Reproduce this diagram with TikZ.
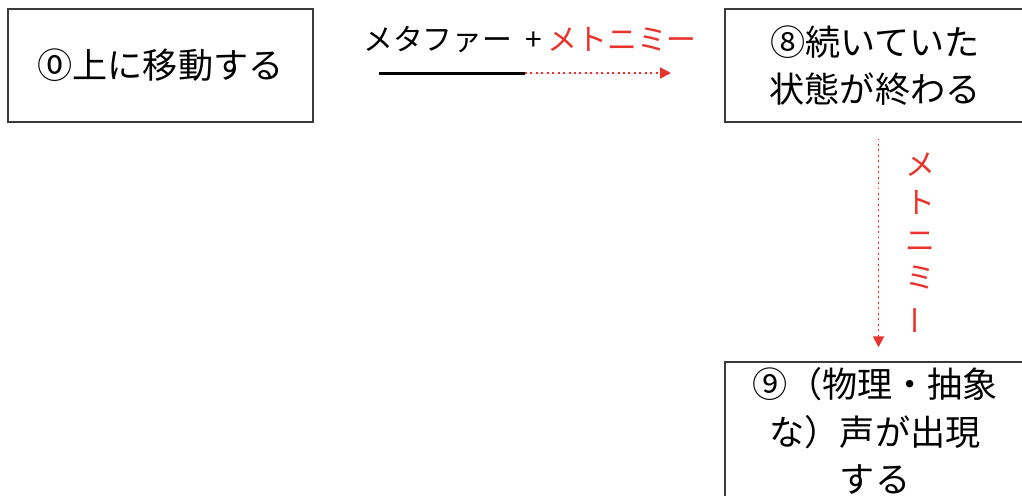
\documentclass[tikz,border=0pt]{standalone}
\usepackage{fontspec}
\setmainfont{Noto Sans CJK JP}
\usepackage{tikz}
\usetikzlibrary{arrows.meta, positioning}
\definecolor{meto}{HTML}{E8342C}
\definecolor{edge}{HTML}{3A3A3A}

\begin{document}
\begin{tikzpicture}[x=0.02cm, y=-0.02cm,
  box/.style={draw=edge, line width=0.8pt, minimum width=6.1cm,
              minimum height=2.26cm, align=center, inner sep=2pt,
              font=\fontsize{20}{27}\selectfont},
  lbl/.style={font=\fontsize{17}{21}\selectfont, inner sep=1pt},
  meta/.style={line width=1.7pt, draw=black},
  mt/.style={-{Triangle[length=2.2mm, width=2.2mm]}, draw=meto, fill=meto,
             line width=1.1pt, dotted}]
\useasboundingbox (0,0) rectangle (1022,495);
\node[box] (zero) at (160.5,65.5) {⓪上に移動する};
\node[box, minimum width=6cm] (eight) at (875,65.5) {⑧続いていた\\状態が終わる};
\node[box, minimum width=6cm, minimum height=2.76cm] (nine) at (875,431)
  {⑨（物理・抽象\\な）声が出現\\する};
% metaphor + metonymy
\coordinate (hs) at (379,73);
\coordinate (hm) at (525,73);
\coordinate (he) at (671,73);
\node[lbl] (mlab) at (530,40) {メタファー\hspace{0.45em}+\,\textcolor{meto}{メトニミー}};
\draw[meta] (hs) -- (hm);
\draw[mt] (hm) -- (he);
% metonymy
\draw[mt, shorten <=9pt, shorten >=8pt] ([xshift=2pt]eight.south) -- ([xshift=2pt]nine.north);
\node[lbl, text=meto, align=center, font=\fontsize{17}{21.5}\selectfont] (vlab) at (920,244)
  {メ\\ト\\ニ\\ミ\\\rotatebox[origin=c]{90}{ー}};
\end{tikzpicture}
\end{document}
